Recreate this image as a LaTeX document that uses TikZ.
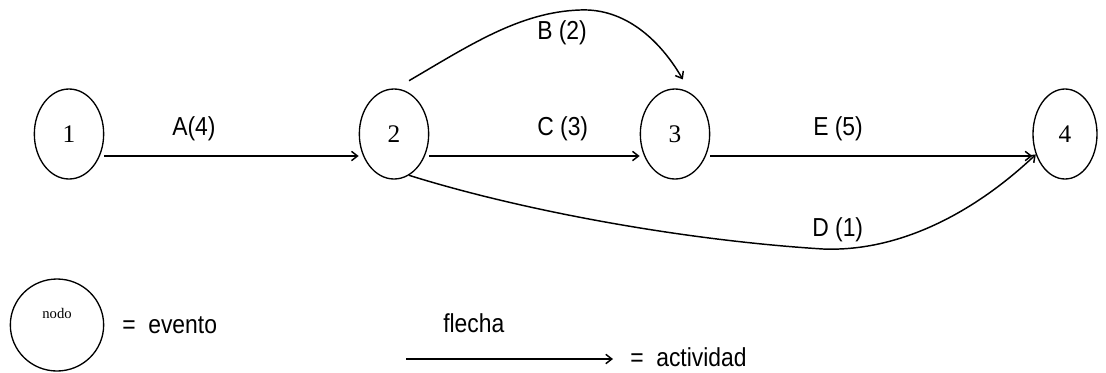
\documentclass[tikz,border=0pt]{standalone}
\usepackage{fontspec}
\setmainfont{Liberation Sans}[FakeStretch=0.88]
\newfontfamily\numfont{Liberation Serif}
\usetikzlibrary{arrows.meta,positioning,shapes.geometric}

\begin{document}
\begin{tikzpicture}[x=0.75pt,y=-0.75pt,every node/.style={font=\fontsize{19.5}{22}\selectfont},
  evento/.style={draw,ellipse,line width=1pt,minimum width=52pt,minimum height=67.5pt,inner sep=0pt,font=\numfont\fontsize{19}{22}\selectfont},
  act/.style={line width=1.1pt,-{Straight Barb[length=4.5pt,width=7pt]}},
  lbl/.style={inner sep=0pt,anchor=base west}]
\useasboundingbox (0,0) rectangle (1106,372);
% eventos
\node[evento] (n1) at (69,134) {1};
\node[evento] (n2) at (394,134) {2};
\node[evento] (n3) at (675,134) {3};
\node[evento,minimum width=48pt] (n4) at (1065,134) {4};
% actividades
\draw[act] ([yshift=-16.5pt]n1.east) -- ([yshift=-16.5pt]n2.west);
\draw[act] ([yshift=-16.5pt]n2.east) -- ([yshift=-16.5pt]n3.west);
\draw[act] ([yshift=-16.5pt]n3.east) -- ([yshift=-16.5pt]n4.west);
\draw[act] ([shift={(0,-12)}]n2.70) .. controls (470,45) and (520,12) .. (580,10) .. controls (625,8) and (660,40) .. ([shift={(0,-10)}]n3.80);
\draw[act] (n2.-70) .. controls (520,210) and (680,240) .. (823,249) .. controls (900,252) and (975,212) .. (n4.215);
\node[lbl] (la) at (172,135) {A(4)};
\node[lbl] (lb) at (537,39) {B (2)};
\node[lbl] (lc) at (537,135) {C (3)};
\node[lbl] (ld) at (812,236) {D (1)};
\node[lbl] (le) at (813,135) {E (5)};
% leyenda
\node[evento,minimum width=70pt,minimum height=69pt] (leg) at (57,325) {};
\node[font=\numfont\fontsize{11}{12}\selectfont,inner sep=0pt] (nodo) at (57,313) {nodo};
\node[lbl] (ev) at (122,333) {=\ \ evento};
\coordinate (f0) at (406,359);
\coordinate (f1) at (613,359);
\draw[act] (f0) -- (f1);
\node[lbl] (fl) at (443,332) {flecha};
\node[lbl] (ac) at (630,366) {=\ \ actividad};
\end{tikzpicture}
\end{document}
